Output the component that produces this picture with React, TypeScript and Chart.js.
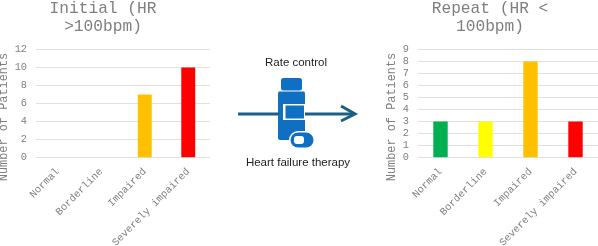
import React, { useEffect, useRef } from "react";
import { Chart, registerables } from "chart.js";

Chart.register(...registerables);

const categories = ["Normal", "Borderline", "Impaired", "Severely impaired"];
const initialValues = [0, 0, 7, 10];
const repeatValues = [3, 3, 8, 3];
const barColors = ["#00b050", "#ffff00", "#ffc000", "#ff0000"];
const initialTitle = ["Initial (HR", ">100bpm)"];
const repeatTitle = ["Repeat (HR <", "100bpm)"];
const yAxisLabel = "Number of Patients";
const topLabel = "Rate control";
const bottomLabel = "Heart failure therapy";

const MONO = "'Liberation Mono', monospace";
const GREY = "#7f7f7f";
const BLUE = "#0f6fc1";

interface PanelProps {
  left: number;
  width: number;
  title: string[];
  values: number[];
  yMax: number;
  yStep: number;
  yWidth: number;
  labelX: number;
}

function Panel({ left, width, title, values, yMax, yStep, yWidth, labelX }: PanelProps) {
  const ref = useRef<HTMLCanvasElement>(null);
  useEffect(() => {
    if (!ref.current) return;
    const axisLabel = {
      id: "axisLabel",
      afterDraw(chart: any) {
        const { ctx } = chart;
        ctx.save();
        ctx.translate(labelX, 120);
        ctx.rotate(-Math.PI / 2);
        ctx.font = `11.9px ${MONO}`;
        ctx.fillStyle = GREY;
        ctx.textAlign = "center";
        ctx.textBaseline = "middle";
        ctx.fillText(yAxisLabel, 0, 0);
        ctx.restore();
      },
    };
    const chart = new Chart(ref.current, {
      type: "bar",
      data: {
        labels: categories,
        datasets: [
          {
            data: values,
            backgroundColor: barColors,
            barPercentage: 0.32,
            categoryPercentage: 1,
          },
        ],
      },
      plugins: [axisLabel],
      options: {
        animation: false,
        responsive: false,
        plugins: {
          legend: { display: false },
          tooltip: { enabled: false },
          title: {
            display: true,
            text: title,
            color: GREY,
            font: { family: MONO, size: 16.2, weight: "normal", lineHeight: 1.14 },
            padding: { top: 2, bottom: 13.4 },
          },
        },
        scales: {
          x: {
            grid: { display: false },
            border: { display: false },
            afterFit: (s: any) => {
              s.height = 88.3;
            },
            ticks: {
              color: GREY,
              font: { family: MONO, size: 10.3 },
              minRotation: 45,
              maxRotation: 45,
              autoSkip: false,
              padding: 0,
            },
          },
          y: {
            min: 0,
            max: yMax,
            afterFit: (s: any) => {
              s.width = yWidth;
            },
            border: { display: false },
            grid: { color: "#e0e0e0", lineWidth: 1, drawTicks: false },
            ticks: {
              stepSize: yStep,
              autoSkip: false,
              color: GREY,
              font: { family: MONO, size: 10.3 },
              padding: 9,
            },
          },
        },
      },
    });
    return () => chart.destroy();
  }, []);
  return (
    <canvas
      ref={ref}
      width={width}
      height={249}
      style={{ position: "absolute", left, top: -3, width, height: 249 }}
    />
  );
}

const textStyle: React.CSSProperties = {
  position: "absolute",
  fontFamily: "'Liberation Sans', Arial, sans-serif",
  fontSize: 11.5,
  color: "#222",
  whiteSpace: "nowrap",
  transform: "translate(-50%, -50%)",
};

export default function App() {
  useEffect(() => {
    document.body.style.margin = "0";
    document.body.style.overflow = "hidden";
  }, []);
  return (
    <div style={{ position: "relative", width: 598, height: 246, overflow: "hidden", background: "#fff" }}>
      <Panel left={-4} width={214} title={initialTitle} values={initialValues} yMax={12} yStep={2} yWidth={40} labelX={8} />
      <Panel left={382} width={216} title={repeatTitle} values={repeatValues} yMax={9} yStep={1} yWidth={36} labelX={10} />
      <svg width={598} height={246} style={{ position: "absolute", left: 0, top: 0 }}>
        <rect x={281} y={78} width={21} height={12.5} rx={2.5} fill={BLUE} />
        <path d="M279 91.5 H304 Q305 91.5 305 94 V138 Q305 140 303 140 H280 Q278 140 278 138 V94 Q278 91.5 279 91.5 Z" fill={BLUE} />
        <rect x={283} y={104} width={22} height={16} fill="#fff" />
        <rect x={285.5} y={105.5} width={18.5} height={13} fill={BLUE} />
        <line x1={238} y1={114} x2={279} y2={114} stroke="#1c5f86" strokeWidth={3} />
        <line x1={305} y1={114} x2={354} y2={114} stroke="#1c5f86" strokeWidth={3} />
        <polyline points="341,106 355,114 341,121" fill="none" stroke="#1c5f86" strokeWidth={3} />
        <rect x={289} y={131} width={26} height={18} rx={9} fill="#fff" />
        <rect x={290.5} y={132.5} width={23} height={15} rx={7.5} fill={BLUE} />
        <rect x={294} y={136} width={10} height={8} rx={3} fill="#fff" />
      </svg>
      <div style={{ ...textStyle, left: 296, top: 62 }}>{topLabel}</div>
      <div style={{ ...textStyle, left: 298, top: 162 }}>{bottomLabel}</div>
    </div>
  );
}
